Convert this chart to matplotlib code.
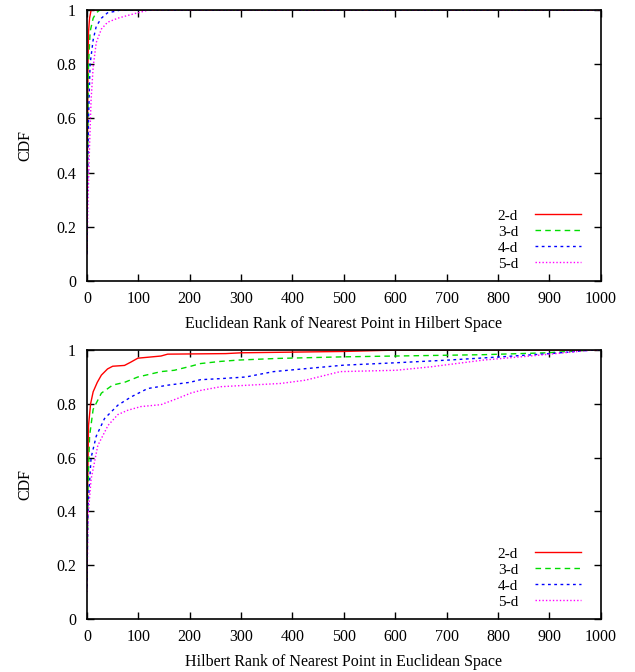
import matplotlib
matplotlib.use("Agg")
import matplotlib.pyplot as plt

plt.rcParams["font.family"] = ["Liberation Serif", "DejaVu Serif"]
plt.rcParams["font.size"] = 11.5

# Euclidean rank of nearest point in Hilbert space (top panel)
top_2d_x = [0, 1, 2, 3, 5, 8, 1000]
top_2d_y = [0.1, 0.5, 0.8, 0.92, 0.97, 1.0, 1.0]
top_3d_x = [0, 1, 2, 3, 6, 12, 18, 25, 1000]
top_3d_y = [0.1, 0.4, 0.65, 0.8, 0.92, 0.97, 0.99, 1.0, 1.0]
top_4d_x = [0, 1, 3, 6, 12, 18, 28, 40, 54, 65, 1000]
top_4d_y = [0.1, 0.35, 0.6, 0.8, 0.89, 0.94, 0.97, 0.99, 0.995, 1.0, 1.0]
top_5d_x = [0, 2, 5, 8, 12, 18, 28, 40, 60, 79, 99, 120, 1000]
top_5d_y = [0.1, 0.3, 0.5, 0.67, 0.79, 0.88, 0.93, 0.955, 0.97, 0.98, 0.99, 1.0, 1.0]

# Hilbert rank of nearest point in Euclidean space (bottom panel)
bot_2d_x = [0, 1, 3, 7, 12, 20, 28, 40, 50, 73, 85, 99, 144, 157, 270, 300, 500, 600, 1000]
bot_2d_y = [0.15, 0.45, 0.72, 0.8, 0.845, 0.88, 0.907, 0.93, 0.94, 0.943, 0.955, 0.97, 0.978, 0.985, 0.987, 0.99, 0.995, 1.0, 1.0]
bot_3d_x = [0, 1, 2, 5, 12, 28, 50, 73, 99, 144, 170, 202, 221, 260, 295, 370, 500, 600, 772, 894, 983, 1000]
bot_3d_y = [0.15, 0.3, 0.49, 0.68, 0.78, 0.84, 0.87, 0.88, 0.9, 0.92, 0.925, 0.94, 0.95, 0.958, 0.963, 0.969, 0.975, 0.978, 0.983, 0.99, 1.0, 1.0]
bot_4d_x = [0, 1, 2, 8, 18, 34, 60, 86, 118, 159, 200, 221, 261, 309, 363, 431, 500, 602, 704, 806, 908, 983, 1000]
bot_4d_y = [0.12, 0.3, 0.42, 0.6, 0.68, 0.745, 0.795, 0.826, 0.857, 0.87, 0.88, 0.89, 0.894, 0.9, 0.92, 0.932, 0.944, 0.953, 0.963, 0.975, 0.988, 1.0, 1.0]
bot_5d_x = [0, 1, 2, 8, 21, 41, 60, 79, 105, 144, 176, 202, 221, 261, 377, 425, 493, 602, 670, 772, 874, 983, 1000]
bot_5d_y = [0.1, 0.25, 0.38, 0.52, 0.645, 0.72, 0.76, 0.776, 0.79, 0.797, 0.82, 0.84, 0.85, 0.864, 0.876, 0.888, 0.92, 0.925, 0.938, 0.963, 0.98, 1.0, 1.0]

labels = ["2-d", "3-d", "4-d", "5-d"]
colors = ["#ff0000", "#00dd00", "#0000ff", "#ff00ff"]
styles = ["-", (0, (4, 3)), (0, (2, 2.5)), (0, (1, 1.5))]

fig = plt.figure(figsize=(6.35, 6.72), dpi=100)
ax1 = fig.add_axes([0.137, 0.582, 0.809, 0.403])
ax2 = fig.add_axes([0.137, 0.079, 0.809, 0.400])

panels = [
    (ax1, [(top_2d_x, top_2d_y), (top_3d_x, top_3d_y), (top_4d_x, top_4d_y), (top_5d_x, top_5d_y)],
     "Euclidean Rank of Nearest Point in Hilbert Space"),
    (ax2, [(bot_2d_x, bot_2d_y), (bot_3d_x, bot_3d_y), (bot_4d_x, bot_4d_y), (bot_5d_x, bot_5d_y)],
     "Hilbert Rank of Nearest Point in Euclidean Space"),
]

for ax, series, xlab in panels:
    for (xs, ys), lab, c, ls in zip(series, labels, colors, styles):
        ax.plot(xs, ys, color=c, linestyle=ls, linewidth=1, label=lab)
    ax.set_xlim(0, 1000)
    ax.set_ylim(0, 1)
    ax.set_xticks(range(0, 1001, 100))
    ax.set_yticks([0, 0.2, 0.4, 0.6, 0.8, 1])
    ax.set_yticklabels(["0", "0.2", "0.4", "0.6", "0.8", "1"])
    ax.tick_params(direction="in", top=True, right=True, length=5, width=1)
    ax.tick_params(axis="x", pad=7)
    ax.tick_params(axis="y", pad=8)
    for s in ax.spines.values():
        s.set_linewidth(1.2)
    ax.set_xlabel(xlab, labelpad=7)
    ax.set_ylabel("CDF", labelpad=16)
    ax.legend(loc="lower right", bbox_to_anchor=(0.973, 0.015), frameon=False,
              markerfirst=False, fontsize=11, handlelength=3.0, handletextpad=1.1,
              labelspacing=0.15, borderaxespad=0, borderpad=0.4)

fig.savefig("out.png", dpi=100)
